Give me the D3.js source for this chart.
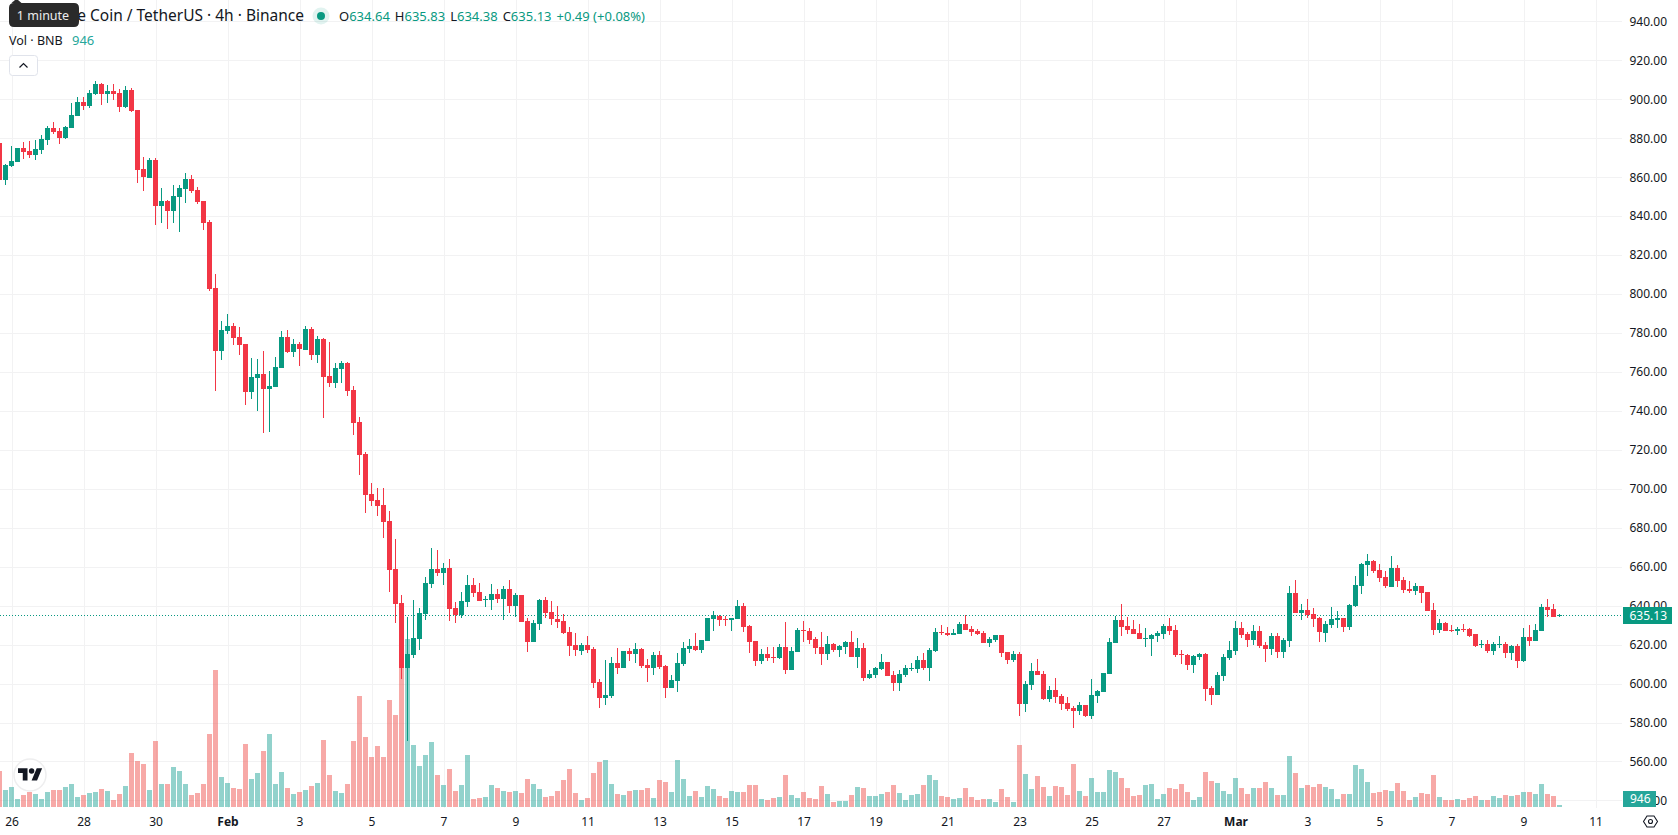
<!DOCTYPE html>
<html>
<head>
<meta charset="utf-8">
<title>BNB / USDT 4h</title>
<script src="https://cdnjs.cloudflare.com/ajax/libs/d3/7.8.5/d3.min.js"></script>
<style>
  html, body { margin: 0; padding: 0; background: #fff; overflow: hidden; }
  svg { display: block; font-family: "Noto Sans", sans-serif; }
  .tick line, .domain { shape-rendering: crispEdges; }
</style>
</head>
<body>
<svg id="chart" width="1678" height="835"></svg>
<script>
// 4-hour candles, oldest first
const opens = [
  877.6,858.7,865.8,867.8,875,873.4,871.4,874,879.1,885.3,
  883.7,880.1,885.3,891.4,898.6,896.6,902.7,907.9,902.7,904.3,
  903.2,896,904.8,894.5,864.2,859.6,868.8,845.2,847.8,842.6,
  849.8,853.9,859.1,853.4,847.8,837,803.1,770.8,781,783.6,
  778,774.3,749.7,756.9,758.9,751.2,752.4,762.2,778.1,770.4,
  774.5,771.4,782.2,768.9,777.1,758.1,754.5,761.7,764.8,750.9,
  734.5,718,697.5,694.4,691.8,683.6,658.9,641.5,608.1,614.8,
  623,635.9,651.3,659,656.9,659.5,638.9,635.3,642,650.8,
  647.1,643,643,646.1,643.4,648.5,639.8,645.4,632.1,621.3,
  630.6,642.9,636.7,633.1,632.1,626.4,619.8,616.7,619.8,617.7,
  600.8,592.6,593.6,610.5,608,616.7,615.2,617.7,609.5,608,
  614.6,609,597.7,601.3,610,617.7,619.3,617.2,621.8,633.1,
  634.7,633.2,632.7,633.2,639.8,629.6,621.9,611.6,615.2,613.6,
  613.1,618.8,607,616.2,627.5,627,622.9,618.8,615.2,620.3,
  617.2,618.8,621.4,613.7,618.3,602.9,604.4,607.5,611.1,604.4,
  600.3,604.4,607.5,607.5,612.1,608,616.7,626.5,626,624.9,
  625.5,630.6,628,627,626,620.8,622.4,624.9,616.2,612.1,
  615.2,589.5,599.3,606.5,604.9,592.1,596.7,593.7,590.1,587.5,
  586,589,583.4,593.7,595.7,605,620.9,632.7,629.6,628.1,
  626,622.9,622.9,624.5,625.5,629.6,627.5,615.2,614.7,609.6,
  613.7,615.2,597.8,594.2,603.9,613.2,616.8,628.6,625.5,622.4,
  627,619.8,617.8,624.5,616.2,621.9,646.6,636.3,637.8,635.8,
  633.7,625.9,630,632.6,633.6,629,639.8,650.1,660.9,662.9,
  658.3,654.7,649.6,659.3,653.2,648.5,647.5,650.1,647,637.7,
  627.5,631.1,627.5,627,628,628,625.4,619.8,620.3,616.7,
  619.8,620.3,615.7,619.3,611.6,623.9,621.8,627,639.3,638.3,
  634.64
];
const highs = [
  879,866.6,876,875.2,878.1,878.6,879.1,881.7,886.3,888.3,
  885.3,886.3,898.1,901.2,901.2,904.8,909.4,908.4,907.3,907.9,
  905.3,906.8,905.8,894.5,870.4,869.9,869.9,854.5,848.3,856,
  856,862.2,861.1,855,847.9,838,810.3,786.2,789.8,785.1,
  783.1,774.5,767.2,766.7,770.8,760.5,767.8,781.2,781.7,777.1,
  775.5,783.8,783.3,778.6,777.2,775.6,764.8,765.8,765,752.9,
  737,719,703.1,700.6,700.6,688.7,674.4,645.6,634.3,643,
  638.9,654.8,669.7,668.7,662,664.1,642,647.1,655.9,654.3,
  651.8,645.1,651.3,648.7,650,653.2,646.5,645.5,633.6,632.6,
  643.4,644.4,642.4,639.8,635.7,629,625.9,620.8,624.4,618.7,
  602.3,612.1,613.6,618.2,616.8,618.2,620.8,618.2,612.6,616.2,
  616.7,609.5,604.4,615.7,621.3,622.9,625.9,622.4,633.8,637.2,
  635,634.7,633.7,642.9,641.4,630.1,622,617.8,618.8,618.8,
  620.3,631.6,618.8,628.5,632.1,628.5,623.9,626.5,624.4,620.8,
  619.8,621.9,627,623.4,620.8,607,608.5,615.2,611.2,606.5,
  607,609.5,610.6,614.2,615.7,618.3,628.5,630.1,629,628,
  631.6,635.2,629.6,628,627,623.9,625,625,616.3,616.7,
  616.2,601.4,610.6,612.7,606.5,598.8,602.9,594.7,593.1,588.5,
  590.6,589.1,602.4,596.7,605.6,623.4,634.7,640.9,634.2,632.7,
  630.6,628.6,625.5,627,630.6,633.7,630.1,617.3,615.2,614.7,
  615.7,615.7,598.8,606,615.2,621.9,632.2,631.7,626.5,630.1,
  629.6,621.4,626,626,623.4,650.1,653.2,640.9,643.5,638.8,
  634.2,632.1,639.3,637.2,633.7,640.8,655.2,661.9,666.5,663.4,
  661.4,657.8,665.5,660.9,654.7,652.6,651.6,650.2,647.1,641.3,
  633.1,631.6,630,629,630.6,628.5,625.5,622.3,622.3,621.3,
  624.4,621.3,619.8,620.3,628.5,630,630.6,640.8,643.4,640.8,
  635.83
];
const lows = [
  857,856,865.2,867.6,869.3,869.9,868.8,871.9,876.5,882.2,
  877,879.6,885.2,891.3,894.5,895.5,902.2,897.1,898.1,899.6,
  893.5,895.5,893.5,857,852.9,859.5,835.5,836.5,833.4,836.5,
  831.9,846.8,851.9,846.2,832.9,801.6,750.2,766.1,779.5,773.8,
  768.7,743,746.1,740,728.6,729.2,752.3,762.1,769.9,767.8,
  763.2,771.3,766.3,764.8,736.5,752.4,751.9,754.5,747.8,727.8,
  707.2,687.7,691.3,686.2,674.9,647.1,631.2,602.5,570.7,613.2,
  617.4,632.8,649.2,655.4,650.7,632.2,631.2,633.8,639.4,644.6,
  642.4,639.4,637.9,641.5,632.6,636.2,634.2,631.5,616.2,621.2,
  627.5,633.6,630,628.5,625.4,614.1,614.1,614.6,615.7,597.7,
  587.4,589,592.6,604.9,607.9,611.6,610.5,608,600.8,604.4,
  607.4,592.6,597.6,595.6,609,615.7,616.7,615.7,621.7,627,
  629.5,629.6,627,633.2,626.5,615.7,609,610.1,611.6,610.6,
  612.6,604.9,606.9,616.1,621.4,620.3,615.2,609.5,612.1,616.2,
  613.7,615.2,613.6,608,601.3,602.4,602.9,607,603.8,596.2,
  596.2,603.4,606.5,605.4,607,601.3,616.2,625,624.4,624.8,
  625.4,627.4,624.4,624.9,620.7,618.8,621.4,613.7,610.1,611.1,
  583.4,585.4,596.7,604.3,591.6,590.6,590.1,586.5,586,577.2,
  583.9,582.9,581.8,590.1,595.6,604.9,620.8,624.5,625.5,625.4,
  622.8,618.8,614.2,621.4,622.9,625,613.7,610.1,607,605.5,
  612.1,591.1,589,594.1,601.4,612.1,614.7,623.4,618.8,619.8,
  618.3,611.1,614.7,613.2,613.2,618.8,636.2,632.7,633.7,629.1,
  621.4,621.3,628.5,628.5,626.4,627.5,639.3,646,655.2,656.8,
  652.1,649,649.5,649.6,646.5,646.5,645.4,641.3,637.1,624.9,
  625.9,626.9,626.4,624.9,626.4,623.9,618.7,618.2,615.7,614.6,
  618.2,613.1,612.1,608,611,619.3,621.7,626.9,634.2,634.1,
  634.38
];
const closes = [
  858.7,866.3,868.3,875,873,871.4,874.5,879.6,885.3,883.2,
  880.1,885.8,891.9,898.6,896.6,903.2,907.9,902.7,904.3,902.7,
  896,904.8,894,863.7,860.1,868.8,845.2,847.8,842.6,850.3,
  854.5,859.1,852.9,847.3,836.5,802.6,770.8,781.5,783.6,777.4,
  773.8,749.7,757.4,758.9,751.2,752.8,762.7,778.1,770.4,774.5,
  771.9,782.2,768.9,777.1,757.6,754.5,762.2,764.8,750.4,734,
  717.5,697,693.9,691.3,683.1,658.4,641,608.1,615.3,623.5,
  636.4,651.8,659,656.9,659.5,638.4,635.3,642.5,650.8,646.6,
  642.5,643.5,646.1,643.5,648.5,639.8,645.4,631.6,621.3,631.1,
  642.9,636.2,633.1,631.6,625.9,619.3,617.2,619.8,617.2,600.3,
  592.6,594.1,610.5,608,616.7,615.2,617.7,609,608,614.6,
  608.5,597.7,601.8,610.5,618.2,619.3,617.2,622.3,633.6,635.2,
  632.6,632.7,633.7,639.8,629.1,621.4,611.6,615.2,613.1,613.1,
  618.8,607,616.7,627.5,627,622.4,618.3,615.2,620.3,617.2,
  619.3,621.4,613.7,618.3,602.9,604.9,608,611.1,603.9,600.3,
  604.9,608,608,612.1,608,617.2,626.5,626,624.9,626,
  630.6,627.5,626.5,625.5,620.8,622.9,624.9,615.7,612.1,615.2,
  589.5,599.8,606.5,604.4,592.1,596.7,593.1,589.5,587,586,
  589,583.4,594.2,596.2,605.5,621.4,632.7,629.1,627.5,625.5,
  622.9,623.4,625,626,629.6,627,614.7,614.7,609.6,614.2,
  615.2,597.2,594.2,604.4,613.7,617.3,628.6,625,622.4,627,
  619.3,617.8,624.5,616.2,622.4,646.6,636.3,637.8,635.3,633.2,
  626.5,630.6,633.1,633.6,629,640.3,650.6,661.4,662.9,657.8,
  654.2,650.1,659.3,652.6,648,647.5,650.1,646.5,637.2,627.5,
  631.1,627,627,628,627.5,624.4,619.3,620.3,616.7,620.3,
  620.3,615.7,619.3,611.6,623.9,621.8,627.5,639.3,637.7,634.2,
  635.13
];
// traded volume per candle, thousands of BNB
const volumeThousands = [
  17.1,8.1,9.5,3.8,5.7,7.1,6.2,3.8,7.1,8.1,
  8.1,9.5,10.9,4.7,5.7,6.6,7.1,8.5,7.6,3.3,
  6.2,10,25.6,21.8,20.4,8.1,31.3,10.9,10.9,19,
  17.1,10.9,5.7,6.6,10.9,34.6,64.9,14.2,11.4,9,
  8.5,29.9,13.3,16.1,26.5,34.6,10.9,16.6,9,6.2,
  7.1,8.1,10,11.4,31.8,15.2,7.6,6.6,10.9,31.3,
  52.6,33.2,23.7,28.9,23.7,50.7,43.6,65.9,79.6,29.4,
  19.4,24.6,30.8,15.2,10.4,18,7.6,10.4,24.6,3.8,
  4.3,4.7,10.4,9,7.6,7.1,7.6,6.6,13.3,10.9,
  8.5,4.7,5.2,7.6,12.8,18,6.6,3.3,4.3,16.1,
  21.3,22.3,10.9,6.2,5.7,7.6,8.1,8.1,9,4.3,
  12.8,11.9,7.1,22.3,13.3,5.2,7.6,4.7,10,8.5,
  5.2,4.3,7.6,7.1,7.1,10.4,10.4,3.8,3.3,4.3,
  4.7,15.2,5.7,4.3,7.1,4.3,3.8,10,6.2,2.4,
  2.8,2.8,5.7,9.5,9,5.2,5.2,6.2,7.1,10.4,
  6.6,3.3,5.7,6.2,10.4,15.2,12.8,5.2,4.7,3.8,
  4.3,9,4.7,3.3,3.8,3.8,2.4,8.5,4.7,2.4,
  29.4,15.6,8.5,14.7,9.5,5.2,10,9.5,5.7,20.4,
  7.6,5.2,13.7,7.1,7.1,17.5,16.6,13.7,9,5.2,
  5.7,10.4,10.9,3.8,6.2,9,8.5,10.9,7.1,3.3,
  4.7,16.6,12.3,11.4,7.6,6.2,13.7,9,6.2,9,
  9,11.9,9,5.7,5.7,24.2,16.1,9,10.4,9.5,
  10.9,9.5,8.5,3.8,6.2,6.2,19.9,18,11.9,6.6,
  7.1,8.1,7.6,11.4,7.6,3.3,4.7,6.6,6.2,15.2,
  4.7,3.3,3.3,3.8,3.3,4.3,5.2,3.3,3.3,5.2,
  4.3,5.7,5.2,5.7,7.1,7.1,6.2,10.9,6.2,5.2,
  0.946
];

const priceTicks = [540,560,580,600,620,640,660,680,700,720,740,760,780,800,820,840,860,880,900,920,940];
const timeLabels = ["26","28","30","Feb","3","5","7","9","11","13","15","17","19","21","23","25","27","Mar","3","5","7","9","11"];
const monthLabels = ["Feb","Mar"];
const titleText = "Binance Coin / TetherUS · 4h · Binance";
const changeText = "+0.49 (+0.08%)";

const GREEN = "#089981", RED = "#f23645";
const VOL_GREEN = "rgba(38,166,154,0.5)", VOL_RED = "rgba(239,83,80,0.5)";
const GRID = "#f2f2f3", INK = "#131722";

const plotRight = 1622, volumeBase = 807;
const candleWidth = 5;

const candles = opens.map((o, i) => ({
  i, o, h: highs[i], l: lows[i], c: closes[i], v: volumeThousands[i], up: closes[i] >= o
}));

const x = d3.scaleLinear().domain([0, 260]).range([-0.5, 1559.5]);
const y = d3.scaleLinear().domain([540, 940]).range([800.4, 21.4]);
const yVol = d3.scaleLinear().domain([0, 79.6]).range([volumeBase, volumeBase - 168]);

const svg = d3.select("#chart");
const textFont = "Noto Sans";

// one axis label every twelve candles (two trading days)
const tickIndex = timeLabels.map((_, k) => 2 + 12 * k);

// price and date gridlines come from the axes themselves
svg.append("g")
  .attr("transform", `translate(${plotRight},0)`)
  .call(d3.axisLeft(y).tickValues(priceTicks).tickSize(plotRight).tickFormat(""))
  .call(g => g.select(".domain").remove())
  .call(g => g.selectAll("line").attr("stroke", GRID));

svg.append("g")
  .attr("transform", `translate(0,${volumeBase + 1})`)
  .call(d3.axisTop(x).tickValues(tickIndex).tickSize(volumeBase + 1).tickFormat(""))
  .call(g => g.select(".domain").remove())
  .call(g => g.selectAll("line").attr("stroke", GRID));

const plot = svg.append("g");
const px = d => Math.floor(x(d.i));

// volume histogram sits beneath the candles
plot.append("g").selectAll("rect").data(candles).join("rect")
  .attr("x", d => px(d) - 2)
  .attr("width", candleWidth)
  .attr("y", d => Math.round(yVol(d.v)))
  .attr("height", d => volumeBase - Math.round(yVol(d.v)))
  .attr("fill", d => d.up ? VOL_GREEN : VOL_RED)
  .attr("shape-rendering", "crispEdges");

// last-price line
plot.append("line")
  .attr("x1", 0).attr("x2", plotRight)
  .attr("y1", Math.floor(y(closes[260])) + 0.5).attr("y2", Math.floor(y(closes[260])) + 0.5)
  .attr("stroke", GREEN).attr("stroke-width", 1).attr("stroke-dasharray", "1 2");

// wicks then bodies
plot.append("g").selectAll("rect").data(candles).join("rect")
  .attr("x", d => px(d))
  .attr("width", 1)
  .attr("y", d => Math.round(y(d.h)))
  .attr("height", d => Math.max(1, Math.round(y(d.l)) - Math.round(y(d.h))))
  .attr("fill", d => d.up ? GREEN : RED)
  .attr("shape-rendering", "crispEdges");

plot.append("g").selectAll("rect").data(candles).join("rect")
  .attr("x", d => px(d) - 2)
  .attr("width", candleWidth)
  .attr("y", d => Math.round(y(Math.max(d.o, d.c))))
  .attr("height", d => Math.max(1, Math.round(y(Math.min(d.o, d.c))) - Math.round(y(Math.max(d.o, d.c)))))
  .attr("fill", d => d.up ? GREEN : RED)
  .attr("shape-rendering", "crispEdges");

// price axis labels, right-aligned in the scale column
svg.append("g")
  .attr("transform", `translate(1667,0)`)
  .call(d3.axisRight(y).tickValues(priceTicks).tickSize(0).tickPadding(0).tickFormat(d3.format(".2f")))
  .call(g => g.select(".domain").remove())
  .call(g => g.selectAll("text")
    .attr("text-anchor", "end")
    .attr("fill", INK)
    .style("font-family", textFont)
    .style("font-size", "12px"));

// date axis labels
svg.append("g")
  .attr("transform", "translate(0,817)")
  .call(d3.axisBottom(x).tickValues(tickIndex).tickSize(0).tickPadding(0)
    .tickFormat((d, k) => timeLabels[k]))
  .call(g => g.select(".domain").remove())
  .call(g => g.selectAll("text")
    .attr("fill", INK)
    .style("font-family", textFont)
    .style("font-size", "12px")
    .style("font-weight", (d, k) => monthLabels.includes(timeLabels[k]) ? 700 : 400));

// flags on the price column: volume first so the last price stays on top
const flag = (bx, by, w, h, fill, label) => {
  svg.append("rect").attr("x", bx).attr("y", by).attr("width", w).attr("height", h)
    .attr("fill", fill).attr("shape-rendering", "crispEdges");
  svg.append("text").attr("x", bx + w - 5).attr("y", by + h / 2).attr("dy", "0.35em")
    .attr("text-anchor", "end").attr("fill", "#fff").style("font-size", "12px").text(label);
};
flag(1623, 791, 32.5, 16, "#26a69a", d3.format(".0f")(volumeThousands[260] * 1000));
flag(1623, 607, 49, 17, GREEN, closes[260].toFixed(2));

// legend rows
const legend = svg.append("g").attr("fill", INK);
legend.append("text").attr("x", 304).attr("y", 21).attr("text-anchor", "end")
  .style("font-size", "15.5px").text(titleText);

svg.append("circle").attr("cx", 321).attr("cy", 16).attr("r", 8.5).attr("fill", "rgba(8,153,129,0.12)");
svg.append("circle").attr("cx", 321).attr("cy", 16).attr("r", 4).attr("fill", GREEN);

const ohlc = svg.append("text").attr("x", 339).attr("y", 21).style("font-size", "13px");
[["O", opens[260]], ["H", highs[260]], ["L", lows[260]], ["C", closes[260]]].forEach(([k, v], n) => {
  ohlc.append("tspan").attr("fill", INK).attr("dx", n ? 5 : 0).text(k);
  ohlc.append("tspan").attr("fill", GREEN).text(v.toFixed(2));
});
ohlc.append("tspan").attr("fill", GREEN).attr("dx", 5).text(changeText);

legend.append("text").attr("x", 9).attr("y", 45).style("font-size", "12.5px").text("Vol · BNB");
svg.append("text").attr("x", 72).attr("y", 45).attr("fill", "#26a69a").style("font-size", "13px")
  .text(d3.format(".0f")(volumeThousands[260] * 1000));

// collapse button
svg.append("rect").attr("x", 9.5).attr("y", 55.5).attr("width", 28).attr("height", 20).attr("rx", 3)
  .attr("fill", "#fff").attr("stroke", "#e0e3eb");
svg.append("path").attr("d", "M19.5 67.5 L23.5 63.5 L27.5 67.5").attr("fill", "none")
  .attr("stroke", INK).attr("stroke-width", 1.2);

// tooltip over the start of the title
svg.append("path").attr("d", "M9 8 Q9 3 14 3 L11.5 3 L15 0 L18 0 L21.5 3 L74 3 Q79 3 79 8 L79 22 Q79 27 74 27 L14 27 Q9 27 9 22 Z")
  .attr("fill", "#2a2a2a");
svg.append("text").attr("x", 43).attr("y", 20).attr("text-anchor", "middle").attr("fill", "#ececec")
  .style("font-size", "12.5px").text("1 minute");

// watermark logo
const logo = svg.append("g").attr("transform", "translate(30,775)");
logo.append("circle").attr("r", 16).attr("fill", "#fff").attr("stroke", "#eeeeef").attr("stroke-width", 1.5);
logo.append("path").attr("transform", "translate(-12,-9.5) scale(0.68)")
  .attr("d", "M14 22H7V11H0V4h14v18zM28 22h-8l7.5-18h8L28 22z").attr("fill", "#131722");
logo.append("circle").attr("transform", "translate(-12,-9.5) scale(0.68)")
  .attr("cx", 20).attr("cy", 8).attr("r", 4).attr("fill", "#131722");

// scale settings icon
const gear = svg.append("g").attr("transform", "translate(1650.5,821.5)").attr("fill", "none")
  .attr("stroke", INK).attr("stroke-width", 1.1);
gear.append("path").attr("d", "M-7 0 L-3.5 -5.5 L3.5 -5.5 L7 0 L3.5 5.5 L-3.5 5.5 Z");
gear.append("circle").attr("r", 2);
</script>
</body>
</html>
